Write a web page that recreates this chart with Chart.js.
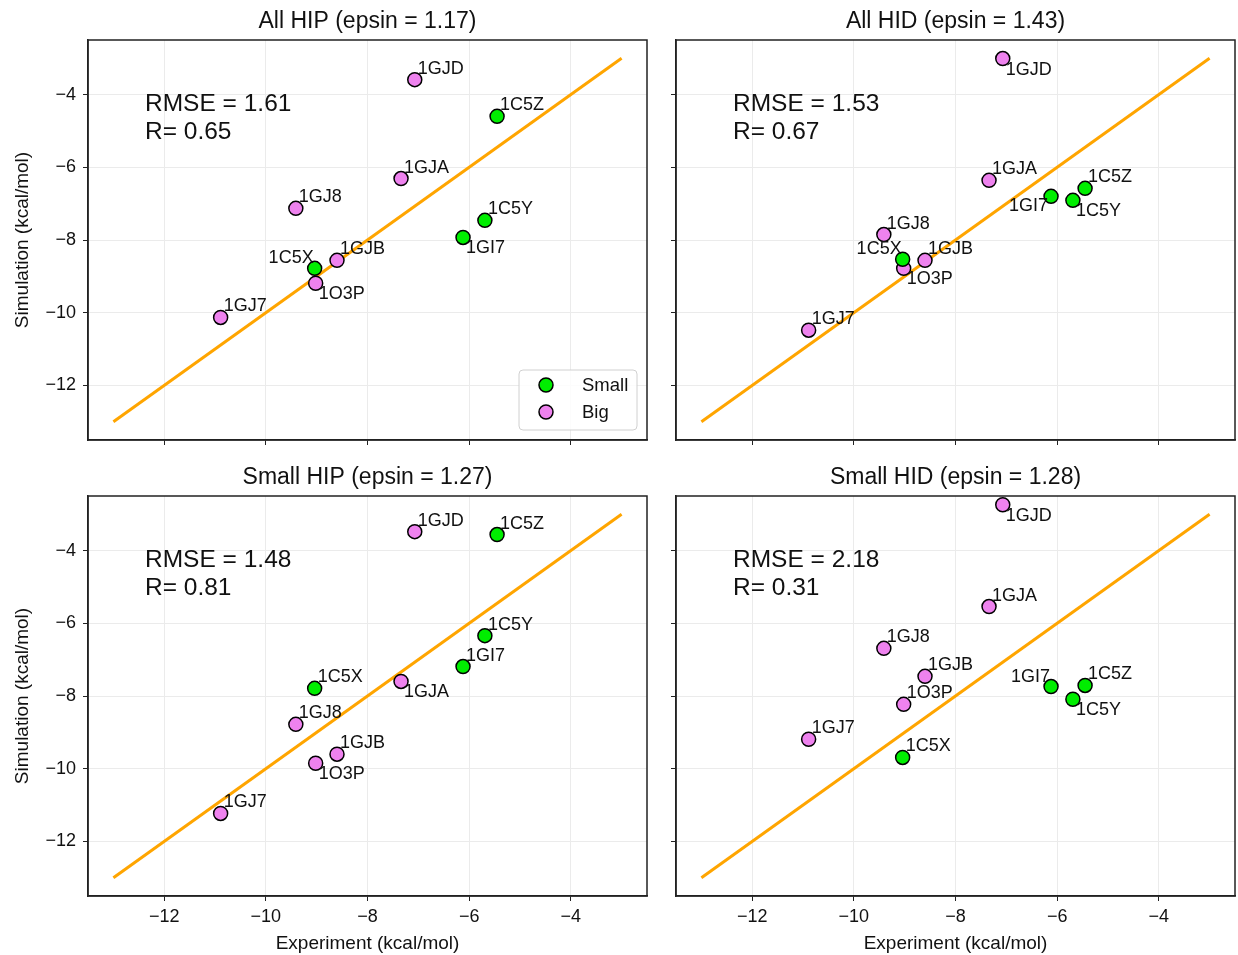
<!DOCTYPE html>
<html>
<head>
<meta charset="utf-8">
<script src="https://cdn.jsdelivr.net/npm/chart.js@4.4.1/dist/chart.umd.min.js"></script>
<style>
  body { margin: 0; background: #fff; }
  #wrap { position: relative; width: 1238px; height: 955px; }
  .panel { position: absolute; }
</style>
</head>
<body>
<div id="wrap">
  <div class="panel" style="left:0;top:0;width:650px;height:460px"><canvas id="c0"></canvas></div>
  <div class="panel" style="left:650px;top:0;width:588px;height:460px"><canvas id="c1"></canvas></div>
  <div class="panel" style="left:0;top:456px;width:650px;height:499px"><canvas id="c2"></canvas></div>
  <div class="panel" style="left:650px;top:456px;width:588px;height:499px"><canvas id="c3"></canvas></div>
</div>
<script>
// Datos
const names = ['1C5X', '1C5Y', '1C5Z', '1GI7', '1GJ7', '1GJ8', '1GJA', '1GJB', '1GJD', '1O3P'];
const groups = ['Small', 'Small', 'Small', 'Small', 'Big', 'Big', 'Big', 'Big', 'Big', 'Big'];
const experiment = [-9.04, -5.69, -5.45, -6.12, -10.89, -9.41, -7.34, -8.60, -7.07, -9.02];

const simAllHIP = [-8.78, -7.46, -4.60, -7.93, -10.13, -7.13, -6.31, -8.56, -3.59, -9.19];
const simAllHID = [-8.53, -6.91, -6.58, -6.80, -10.48, -7.85, -6.36, -8.56, -3.01, -8.78];
const simSmallHIP = [-7.79, -6.34, -3.56, -7.19, -11.23, -8.78, -7.60, -9.60, -3.48, -9.85];
const simSmallHID = [-9.69, -8.09, -7.71, -7.74, -9.19, -6.69, -5.54, -7.46, -2.74, -8.23];

const titles = ['All HIP (epsin = 1.17)', 'All HID (epsin = 1.43)', 'Small HIP (epsin = 1.27)', 'Small HID (epsin = 1.28)'];
const rmse = ['1.61', '1.53', '1.48', '2.18'];
const rValues = ['0.65', '0.67', '0.81', '0.31'];

const xTicks = [-12, -10, -8, -6, -4];
const yTicks = [-12, -10, -8, -6, -4];
const diagonal = [-13, -3];
const axisRange = [-13.5, -2.5];

// donde va cada etiqueta respecto al punto (ur, lr, ul, ll)
const labelPlace = [
    ['ul', 'ur', 'ur', 'lr', 'ur', 'ur', 'ur', 'ur', 'ur', 'lr'],
    ['ul', 'lr', 'ur', 'll', 'ur', 'ur', 'ur', 'ur', 'lr', 'lr'],
    ['ur', 'ur', 'ur', 'ur', 'ur', 'ur', 'lr', 'ur', 'ur', 'lr'],
    ['ur', 'lr', 'ur', 'ul', 'ur', 'ur', 'ur', 'ur', 'lr', 'ur']
];

const FONT = "'Liberation Sans', Arial, sans-serif";
const GREEN = '#00ee00';
const VIOLET = '#ee82ee';

function minus(v) {
    return String(v).replace('-', '\u2212');
}

function drawText(ctx, text, x, y, align, baseline, size) {
    ctx.save();
    ctx.font = `${size}px ${FONT}`;
    ctx.fillStyle = '#111';
    ctx.textAlign = align;
    ctx.textBaseline = baseline;
    ctx.fillText(text, x, y);
    ctx.restore();
}

const decorPlugin = {
    id: 'decor',
    afterDatasetsDraw(chart, args, opts) {
        const ctx = chart.ctx;
        const xs = chart.scales.x, ys = chart.scales.y;
        // etiquetas de los puntos
        names.forEach((name, i) => {
            const px = xs.getPixelForValue(experiment[i]);
            const py = ys.getPixelForValue(opts.sim[i]);
            const p = opts.place[i];
            if (p === 'ur') drawText(ctx, name, px + 3, py - 6, 'left', 'alphabetic', 18);
            if (p === 'lr') drawText(ctx, name, px + 3, py + 2, 'left', 'top', 18);
            if (p === 'ul') drawText(ctx, name, px - 1, py - 5, 'right', 'alphabetic', 18);
            if (p === 'll') drawText(ctx, name, px - 3, py + 1, 'right', 'top', 18);
        });
    },
    afterDraw(chart, args, opts) {
        const ctx = chart.ctx;
        const a = chart.chartArea;
        // marco completo
        ctx.save();
        ctx.strokeStyle = '#222';
        ctx.lineWidth = 1.5;
        ctx.strokeRect(a.left, a.top, a.right - a.left, a.bottom - a.top);
        ctx.restore();

        // título
        drawText(ctx, opts.title, (a.left + a.right) / 2, a.top - 18, 'center', 'middle', 23);

        // RMSE y R
        const tx = a.left + 57;
        drawText(ctx, 'RMSE = ' + opts.rmse, tx, a.top + 71, 'left', 'alphabetic', 24.5);
        drawText(ctx, 'R= ' + opts.r, tx, a.top + 99, 'left', 'alphabetic', 24.5);

        // leyenda
        if (opts.legend) {
            const w = 118, h = 60;
            const lx = a.right - 10 - w, ly = a.bottom - 10 - h;
            ctx.save();
            ctx.fillStyle = 'rgba(255,255,255,0.85)';
            ctx.strokeStyle = '#d0d0d0';
            ctx.lineWidth = 1;
            ctx.beginPath();
            ctx.roundRect(lx, ly, w, h, 4);
            ctx.fill();
            ctx.stroke();
            [['Small', GREEN], ['Big', VIOLET]].forEach(([txt, col], k) => {
                const cy = ly + 15 + k * 27;
                ctx.beginPath();
                ctx.arc(lx + 27, cy, 7, 0, Math.PI * 2);
                ctx.fillStyle = col;
                ctx.fill();
                ctx.strokeStyle = '#000';
                ctx.lineWidth = 1.5;
                ctx.stroke();
                drawText(ctx, txt, lx + 63, cy + 1, 'left', 'middle', 18.5);
            });
            ctx.restore();
        }
    }
};

function makeChart(id, idx, sim, opts) {
    const pick = g => names.map((n, i) => i).filter(i => groups[i] === g)
        .map(i => ({ x: experiment[i], y: sim[i] }));

    const pointStyle = col => ({
        backgroundColor: col,
        borderColor: '#000',
        borderWidth: 1.5,
        pointRadius: 7,
        pointHoverRadius: 7
    });

    new Chart(document.getElementById(id).getContext('2d'), {
        type: 'scatter',
        data: {
            datasets: [
                Object.assign({ label: 'Small', data: pick('Small') }, pointStyle(GREEN)),
                Object.assign({ label: 'Big', data: pick('Big') }, pointStyle(VIOLET)),
                {
                    type: 'line',
                    label: 'y = x',
                    data: diagonal.map(v => ({ x: v, y: v })),
                    borderColor: '#ffa500',
                    borderWidth: 3,
                    pointRadius: 0,
                    fill: false
                }
            ]
        },
        options: {
            responsive: true,
            maintainAspectRatio: false,
            animation: false,
            layout: { autoPadding: false, padding: { top: 40, right: 3, left: 0, bottom: 0 } },
            plugins: {
                legend: { display: false },
                tooltip: { enabled: false },
                decor: {
                    sim: sim,
                    place: labelPlace[idx],
                    title: titles[idx],
                    rmse: rmse[idx],
                    r: rValues[idx],
                    legend: idx === 0
                }
            },
            scales: {
                x: {
                    type: 'linear',
                    min: axisRange[0],
                    max: axisRange[1],
                    afterBuildTicks: s => { s.ticks = xTicks.map(v => ({ value: v })); },
                    afterFit: s => { s.height = opts.xHeight; },
                    grid: { color: '#ebebeb', tickColor: '#222', tickLength: 5, lineWidth: 1 },
                    border: { color: '#222', width: 1.5 },
                    ticks: {
                        padding: 5,
                        color: '#111',
                        font: { family: FONT, size: 18 },
                        callback: v => opts.xLabels ? minus(v) : ''
                    },
                    title: {
                        display: opts.xLabels,
                        text: 'Experiment (kcal/mol)',
                        color: '#111',
                        font: { family: FONT, size: 19 },
                        padding: { top: 0, bottom: 0 }
                    }
                },
                y: {
                    type: 'linear',
                    min: axisRange[0],
                    max: axisRange[1],
                    afterBuildTicks: s => { s.ticks = yTicks.map(v => ({ value: v })); },
                    afterFit: s => { s.width = opts.yWidth; },
                    grid: { color: '#ebebeb', tickColor: '#222', tickLength: 5, lineWidth: 1 },
                    border: { color: '#222', width: 1.5 },
                    ticks: {
                        padding: 7,
                        color: '#111',
                        font: { family: FONT, size: 18 },
                        callback: v => opts.yLabels ? minus(v) : ''
                    },
                    title: {
                        display: opts.yLabels,
                        text: 'Simulation (kcal/mol)',
                        color: '#111',
                        font: { family: FONT, size: 19 },
                        padding: { top: 11, bottom: 0 }
                    }
                }
            }
        },
        plugins: [decorPlugin]
    });
}

document.addEventListener('DOMContentLoaded', () => {
    makeChart('c0', 0, simAllHIP, { xLabels: false, yLabels: true, xHeight: 20, yWidth: 88 });
    makeChart('c1', 1, simAllHID, { xLabels: false, yLabels: false, xHeight: 20, yWidth: 26 });
    makeChart('c2', 2, simSmallHIP, { xLabels: true, yLabels: true, xHeight: 59, yWidth: 88 });
    makeChart('c3', 3, simSmallHID, { xLabels: true, yLabels: false, xHeight: 59, yWidth: 26 });
});
</script>
</body>
</html>
